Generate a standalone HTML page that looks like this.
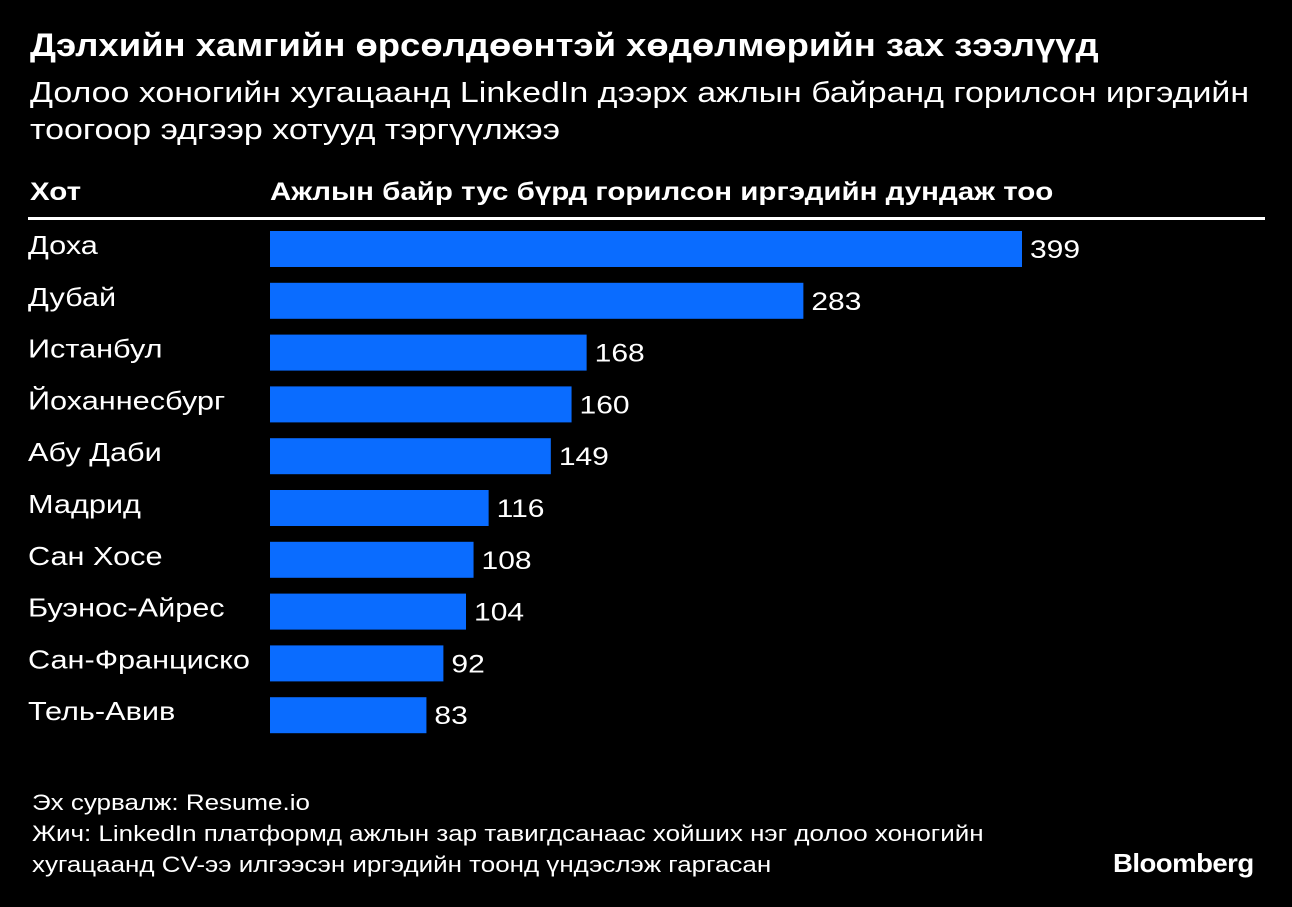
<!DOCTYPE html>
<html><head><meta charset="utf-8"><style>
body{margin:0;width:1292px;height:907px;background:#000;color:#fff;font-family:"Liberation Sans","DejaVu Sans",sans-serif;position:relative;overflow:hidden}
.t{position:absolute;white-space:nowrap;transform-origin:0 0}
</style></head><body>
<div class="t" style="left:30px;top:27px;font-size:32px;font-weight:bold;transform:scaleX(1.14)">Дэлхийн хамгийн өрсөлдөөнтэй хөдөлмөрийн зах зээлүүд</div>
<div class="t" style="left:30px;top:75px;font-size:29px;line-height:37px;transform:scaleX(1.17)">Долоо хоногийн хугацаанд LinkedIn дээрх ажлын байранд горилсон иргэдийн<br>тоогоор эдгээр хотууд тэргүүлжээ</div>
<div class="t" style="left:30px;top:178px;font-size:25px;font-weight:bold;transform:scaleX(1.18)">Хот</div>
<div class="t" style="left:270px;top:178px;font-size:25px;font-weight:bold;transform:scaleX(1.18)">Ажлын байр тус бүрд горилсон иргэдийн дундаж тоо</div>
<div style="position:absolute;left:28px;top:217px;width:1237px;height:3px;background:#fff"></div>
<svg id="chart" width="1292" height="907" style="position:absolute;left:0;top:0"></svg>
<div class="t" style="left:32px;top:787px;font-size:22px;line-height:31px;transform:scaleX(1.18)">Эх сурвалж: Resume.io<br>Жич: LinkedIn платформд ажлын зар тавигдсанаас хойших нэг долоо хоногийн<br>хугацаанд CV-ээ илгээсэн иргэдийн тоонд үндэслэж гаргасан</div>
<div class="t" style="left:1113px;top:848px;font-size:26px;font-weight:bold;letter-spacing:-0.5px;transform:scaleX(1.06)">Bloomberg</div>
<script>
const cities=["Доха","Дубай","Истанбул","Йоханнесбург","Абу Даби","Мадрид","Сан Хосе","Буэнос-Айрес","Сан-Франциско","Тель-Авив"];
const values=[399,283,168,160,149,116,108,104,92,83];
const svg=document.getElementById('chart');
const NS='http://www.w3.org/2000/svg';
const x=v=>270+v*(752/399);
const y=i=>231+i*51.8;
cities.forEach((c,i)=>{
  const r=document.createElementNS(NS,'rect');
  r.setAttribute('x',270);r.setAttribute('y',y(i));r.setAttribute('width',x(values[i])-270);r.setAttribute('height',36);r.setAttribute('fill','#0a6cff');
  
  
  svg.appendChild(r);
  const l=document.createElementNS(NS,'text');
  l.setAttribute('transform','translate(28,'+(y(i)+23)+') scale(1.18,1)');
  l.setAttribute('fill','#fff');l.setAttribute('font-size','26');
  l.setAttribute('font-family','Liberation Sans, DejaVu Sans, sans-serif');l.textContent=c;
  
  
  svg.appendChild(l);
  const v=document.createElementNS(NS,'text');
  v.setAttribute('transform','translate('+(x(values[i])+8)+','+(y(i)+27)+') scale(1.2,1)');
  v.setAttribute('fill','#fff');v.setAttribute('font-size','25');
  v.setAttribute('font-family','Liberation Sans, sans-serif');v.textContent=values[i];
  
  
  svg.appendChild(v);
});
</script>
</body></html>
